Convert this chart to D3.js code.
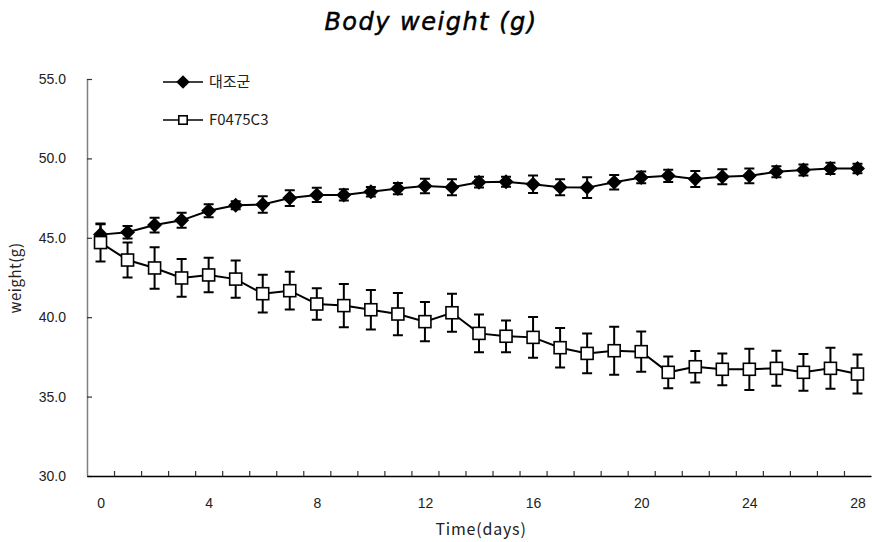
<!DOCTYPE html>
<html>
<head>
<meta charset="utf-8">
<script src="https://cdn.jsdelivr.net/npm/d3@7"></script>
<style>
  body { margin: 0; background: #fff; }
  svg { display: block; font-family: "Noto Sans CJK KR", "Noto Sans", sans-serif; }
</style>
</head>
<body>
<div id="chart"></div>
<script>
const days = d3.range(0, 29);
const xLabels = [0, 4, 8, 12, 16, 20, 24, 28];
const yTicks = [30, 35, 40, 45, 50, 55];

const controlName = '대조군';
const controlMean = [45.2, 45.35, 45.8, 46.1, 46.7, 47.05, 47.1, 47.5, 47.7, 47.7, 47.9, 48.1, 48.26, 48.18, 48.5,
    48.53, 48.37, 48.18, 48.16, 48.5, 48.8, 48.9, 48.7, 48.85, 48.9, 49.16, 49.27, 49.37, 49.37];
const controlSd = [0.65, 0.4, 0.46, 0.47, 0.41, 0.25, 0.52, 0.5, 0.45, 0.35, 0.3, 0.35, 0.46, 0.5, 0.34,
    0.31, 0.55, 0.5, 0.65, 0.46, 0.37, 0.38, 0.5, 0.47, 0.46, 0.34, 0.34, 0.36, 0.3];

const treatName = 'F0475C3';
const treatMean = [44.7, 43.6, 43.1, 42.47, 42.66, 42.4, 41.48, 41.67, 40.83, 40.73, 40.47, 40.2, 39.72, 40.28, 38.98,
    38.8, 38.73, 38.08, 37.72, 37.89, 37.83, 36.53, 36.88, 36.72, 36.72, 36.78, 36.53, 36.78, 36.42];
const treatSd = [1.2, 1.1, 1.31, 1.19, 1.09, 1.17, 1.19, 1.19, 0.99, 1.36, 1.24, 1.33, 1.24, 1.19, 1.19,
    1.0, 1.29, 1.24, 1.25, 1.51, 1.27, 1.0, 0.99, 1.0, 1.3, 1.1, 1.16, 1.29, 1.23];

const width = 872, height = 542;
const plotLeft = 87, plotRight = 871, plotTop = 79, plotBottom = 476;

const svg = d3.select('#chart').append('svg')
    .attr('width', width)
    .attr('height', height);

const x = d3.scaleLinear().domain([-0.5, 28.5]).range([plotLeft, plotRight]);
const y = d3.scaleLinear().domain([30, 55]).range([plotBottom, plotTop]);

// title
svg.append('text')
    .attr('x', 431).attr('y', 30)
    .attr('text-anchor', 'middle')
    .style('font-family', '"DejaVu Sans", sans-serif')
    .style('font-style', 'italic')
    .style('font-size', '24px')
    .style('letter-spacing', '1.5px')
    .attr('stroke', '#000').attr('stroke-width', 0.5)
    .text('Body weight (g)');

// y axis
const yAxis = svg.append('g')
    .attr('transform', `translate(${plotLeft},0)`)
    .call(d3.axisLeft(y).tickValues(yTicks).tickFormat(d3.format('.1f')).tickSize(-5).tickPadding(21));
yAxis.select('.domain').attr('stroke', '#808080').attr('stroke-width', 1.5).attr('d', `M0.5,${plotTop}V${plotBottom}`);
yAxis.selectAll('.tick line').attr('stroke', '#333').attr('stroke-width', 1.2);
yAxis.selectAll('.tick text').style('font-size', '14px').attr('fill', '#222')
    .style('font-family', '"Liberation Sans", Arial, sans-serif');

// x axis: labels at day centres, ticks at boundaries
const xAxis = svg.append('g')
    .attr('transform', `translate(0,${plotBottom})`)
    .call(d3.axisBottom(x).tickValues(xLabels).tickSize(0).tickPadding(22));
xAxis.select('.domain').attr('stroke', '#000').attr('stroke-width', 1.5);
xAxis.selectAll('.tick text').style('font-size', '14px').attr('fill', '#222')
    .style('font-family', '"Liberation Sans", Arial, sans-serif');

const xTicks = svg.append('g')
    .attr('transform', `translate(0,${plotBottom})`)
    .call(d3.axisBottom(x).tickValues(d3.range(0.5, 28.5, 1)).tickSize(-5).tickFormat(''));
xTicks.select('.domain').remove();
xTicks.selectAll('.tick line').attr('stroke', '#333').attr('stroke-width', 1.2);

// axis titles
svg.append('text')
    .attr('x', 481).attr('y', 535)
    .attr('text-anchor', 'middle')
    .style('font-size', '16px')
    .style('letter-spacing', '0.8px')
    .attr('fill', '#222')
    .text('Time(days)');

svg.append('text')
    .attr('transform', 'translate(21,278) rotate(-90)')
    .attr('text-anchor', 'middle')
    .style('font-size', '15px')
    .style('letter-spacing', '0.5px')
    .attr('fill', '#222')
    .text('weight(g)');

function diamondPath(r) {
    return `M0,${-r}L${r},0L0,${r}L${-r},0Z`;
}

function drawSeries(mean, sd, marker) {
    const g = svg.append('g');
    // error bars
    days.forEach((d, i) => {
        const cx = x(d);
        const y1 = y(mean[i] + sd[i]), y2 = y(mean[i] - sd[i]);
        g.append('path')
            .attr('d', `M${cx},${y1}V${y2}M${cx - 5},${y1}H${cx + 5}M${cx - 5},${y2}H${cx + 5}`)
            .attr('fill', 'none').attr('stroke', '#000').attr('stroke-width', 2);
    });
    const line = d3.line().x((d, i) => x(days[i])).y(d => y(d));
    g.append('path')
        .datum(mean)
        .attr('d', line)
        .attr('fill', 'none').attr('stroke', '#000').attr('stroke-width', 2);
    days.forEach((d, i) => {
        const m = g.append('g').attr('transform', `translate(${x(d)},${y(mean[i])})`);
        marker(m, 1);
    });
}

const drawDiamond = (m, s) => m.append('path').attr('d', diamondPath(7.5 * s)).attr('fill', '#000');
const drawSquare = (m, s) => m.append('rect')
    .attr('x', -6 * s).attr('y', -6 * s).attr('width', 12 * s).attr('height', 12 * s)
    .attr('fill', '#fff').attr('stroke', '#000').attr('stroke-width', 1.6);

drawSeries(controlMean, controlSd, drawDiamond);
drawSeries(treatMean, treatSd, drawSquare);

// legend
const legend = [
    { name: controlName, marker: drawDiamond, s: 0.9, y: 82 },
    { name: treatName, marker: drawSquare, s: 0.7, y: 120 }
];
legend.forEach(l => {
    const g = svg.append('g').attr('transform', `translate(183,${l.y})`);
    g.append('line').attr('x1', -20).attr('x2', 20).attr('stroke', '#000').attr('stroke-width', 1.5);
    l.marker(g, l.s);
    g.append('text')
        .attr('x', 26).attr('y', 5)
        .style('font-size', '15px')
        .attr('fill', '#222')
        .text(l.name);
});
</script>
</body>
</html>
